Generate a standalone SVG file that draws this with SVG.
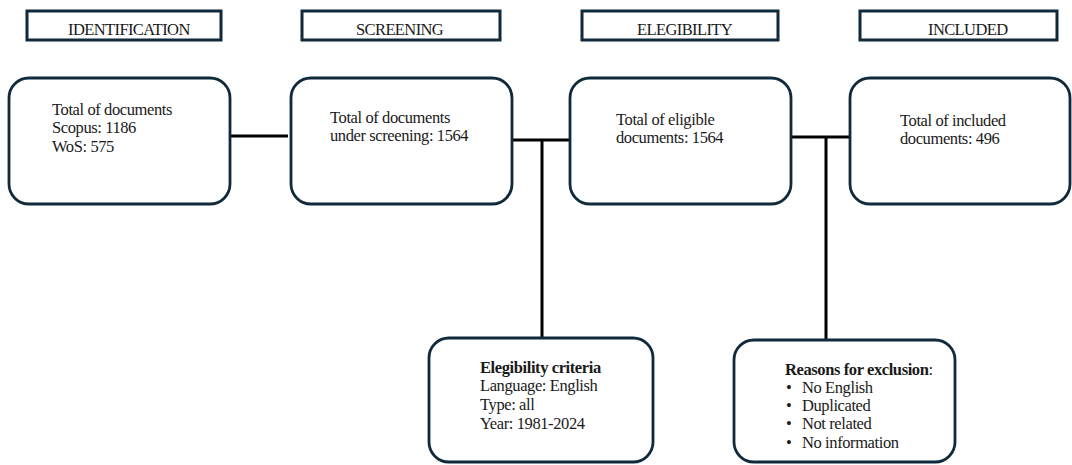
<svg xmlns="http://www.w3.org/2000/svg" width="1072" height="465" viewBox="0 0 1072 465">
<style>
.hdr{fill:#fff;stroke:#10293b;stroke-width:3}
.box{fill:#fff;stroke:#10293b;stroke-width:2.8}
.t{font-family:"Liberation Serif","Times New Roman",serif;font-size:16.5px;fill:#1a1a1a;letter-spacing:-0.4px}
.h{font-family:"Liberation Serif","Times New Roman",serif;font-size:16.5px;fill:#1a1a1a;letter-spacing:-0.6px}
.b{font-weight:bold}
.c{stroke:#000;stroke-width:3;fill:none}
</style>
<rect width="1072" height="465" fill="#fff"/>
<g id="h-identification"><rect class="hdr" x="27" y="11" width="194" height="29"/><text class="h" x="68" y="35">IDENTIFICATION</text></g>
<g id="h-screening"><rect class="hdr" x="302" y="11" width="198" height="29"/><text class="h" x="356" y="35">SCREENING</text></g>
<g id="h-elegibility"><rect class="hdr" x="582" y="11" width="196" height="29"/><text class="h" x="637" y="35">ELEGIBILITY</text></g>
<g id="h-included"><rect class="hdr" x="860" y="11" width="197" height="29"/><text class="h" x="928" y="35">INCLUDED</text></g>
<g id="connectors">
<path class="c" d="M231,136 H288"/>
<path class="c" d="M513,140 H571 M542,140 V338"/>
<path class="c" d="M792,137 H851 M826,137 V340"/>
</g>
<g id="n-identification"><rect class="box" x="9" y="78" width="221" height="126" rx="20"/>
<text class="t"><tspan x="52" y="115">Total of documents</tspan><tspan x="52" y="133">Scopus: 1186</tspan><tspan x="52" y="152">WoS: 575</tspan></text></g>
<g id="n-screening"><rect class="box" x="291" y="78" width="221" height="126" rx="20"/>
<text class="t"><tspan x="330" y="123">Total of documents</tspan><tspan x="330" y="141">under screening: 1564</tspan></text></g>
<g id="n-elegibility"><rect class="box" x="570" y="78" width="221" height="126" rx="20"/>
<text class="t"><tspan x="616" y="125">Total of eligible</tspan><tspan x="616" y="143">documents: 1564</tspan></text></g>
<g id="n-included"><rect class="box" x="850" y="78" width="220" height="126" rx="20"/>
<text class="t"><tspan x="900" y="126">Total of included</tspan><tspan x="900" y="144">documents: 496</tspan></text></g>
<g id="n-criteria"><rect class="box" x="429" y="338" width="224" height="124" rx="20"/>
<text class="t"><tspan x="480" y="373" class="b">Elegibility criteria</tspan><tspan x="480" y="391">Language: English</tspan><tspan x="480" y="410">Type: all</tspan><tspan x="480" y="429">Year: 1981-2024</tspan></text></g>
<g id="n-exclusion"><rect class="box" x="734" y="340" width="221" height="122" rx="20"/>
<text class="t"><tspan x="785" y="375" class="b">Reasons for exclusion</tspan><tspan>:</tspan></text>
<text class="t"><tspan x="786" y="393">•</tspan><tspan x="802" y="393">No English</tspan><tspan x="786" y="411">•</tspan><tspan x="802" y="411">Duplicated</tspan><tspan x="786" y="429">•</tspan><tspan x="802" y="429">Not related</tspan><tspan x="786" y="448">•</tspan><tspan x="802" y="448">No information</tspan></text></g>
</svg>
